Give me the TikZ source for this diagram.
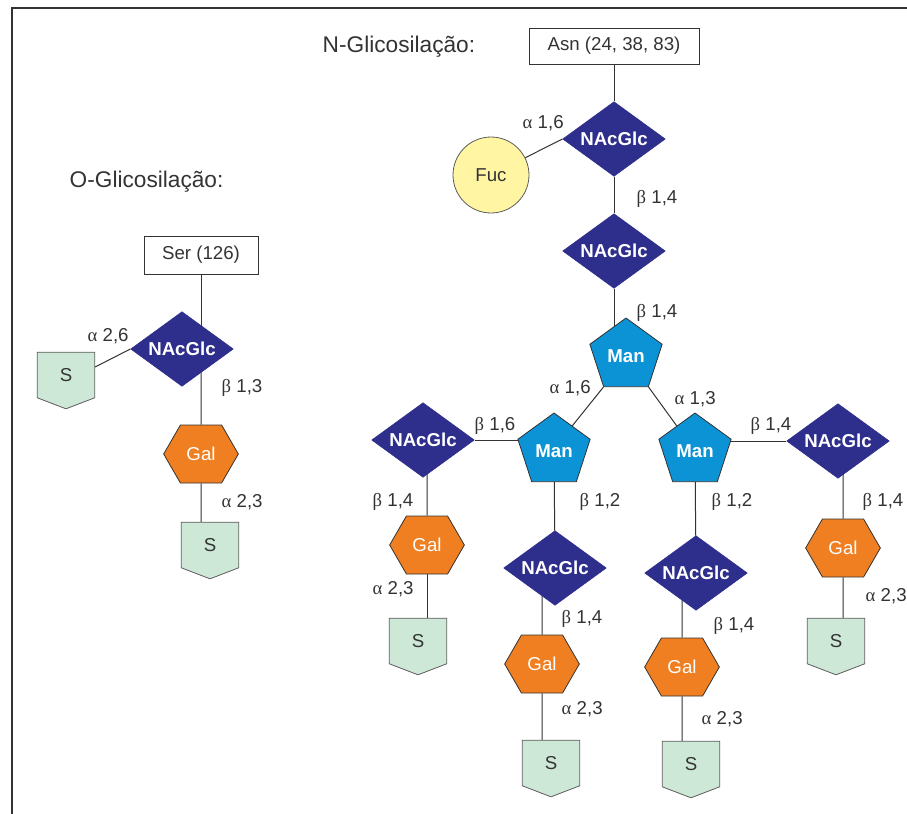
\documentclass[tikz,border=0pt]{standalone}
\usepackage{fontspec}
\setmainfont{Liberation Sans}
\newfontfamily\grk{Liberation Serif}
\usetikzlibrary{positioning,shapes.geometric,shapes.symbols,backgrounds,calc}

\definecolor{nacblue}{HTML}{2E2E8C}
\definecolor{manblue}{HTML}{0B93D6}
\definecolor{galorange}{HTML}{F07F22}
\definecolor{sgreen}{HTML}{CDE8D6}
\definecolor{fucyellow}{HTML}{FFF5A3}
\definecolor{ink}{HTML}{333333}

\newcommand{\lalpha}{{\grk α}}
\newcommand{\lbeta}{{\grk β}}

\begin{document}
\begin{tikzpicture}[x=0.75pt, y=-0.75pt
    , every node/.style={font=\fontsize{14}{16}\selectfont, text=ink}
    , nacglc/.style={diamond, aspect=1.4, fill=nacblue, draw=nacblue,
        minimum width=77pt, minimum height=56pt, inner sep=0pt,
        text=white, font=\fontsize{14}{16}\selectfont\bfseries}
    , man/.style={regular polygon, regular polygon sides=5, minimum size=57pt,
        inner sep=0pt, fill=manblue, draw=ink, line width=0.6pt,
        text=white, font=\fontsize{14}{16}\selectfont\bfseries}
    , gal/.style={signal, signal to=east and west, signal pointer angle=120,
        minimum width=56pt, minimum height=43.5pt, inner sep=0pt,
        fill=galorange, draw=ink, line width=0.6pt, text=white}
    , sugar/.style={signal, signal to=south, signal pointer angle=138,
        minimum width=43pt, minimum height=36pt, inner sep=0pt,
        fill=sgreen, draw=ink!80, line width=0.6pt}
    , fuc/.style={circle, minimum size=57pt, inner sep=0pt, fill=fucyellow,
        draw=ink!80, line width=0.6pt}
    , site/.style={rectangle, draw=ink, line width=0.6pt, inner sep=0pt}
    , heading/.style={anchor=west, font=\fontsize{17}{20}\selectfont}
    , link/.style={anchor=west}
    , bond/.style={draw=ink, line width=0.75pt}
    ]
    \useasboundingbox (0,0) rectangle (907,814);
    \draw[ink, line width=0.9pt] (907,8) -- (12,8) -- (12,814);

    % headings
    \node[heading] (ntitle) at (318,47) {N-Glicosilação:};
    \node[heading] (otitle) at (65,182) {O-Glicosilação:};

    % N-glycan
    \node[site, minimum width=127.5pt, minimum height=27pt] (asn) at (614,46) {Asn (24, 38, 83)};
    \node[nacglc] (nac1) at (614,139) {NAcGlc};
    \node[fuc] (fuc) at (491,175) {Fuc};
    \node[nacglc] (nac2) at (614,251) {NAcGlc};
    \node[man] (man1) at (626,356) {Man};
    \node[man] (man2) at (554,451) {Man};
    \node[man] (man3) at (695,451) {Man};
    \node[nacglc] (nacL) at (423,440) {NAcGlc};
    \node[nacglc] (nacR) at (838,441) {NAcGlc};
    \node[nacglc] (nacM2) at (555,568) {NAcGlc};
    \node[nacglc] (nacM3) at (696,573) {NAcGlc};
    \node[gal] (galL) at (427,545) {Gal};
    \node[gal] (galM2) at (542,664) {Gal};
    \node[gal] (galM3) at (682,667) {Gal};
    \node[gal] (galR) at (843,548) {Gal};
    \node[sugar] (sL) at (418,641) {S};
    \node[sugar] (sM2) at (551,763) {S};
    \node[sugar] (sM3) at (691,764) {S};
    \node[sugar] (sR) at (836,641) {S};

    % O-glycan
    \node[site, minimum width=85.5pt, minimum height=28.5pt] (ser) at (201,255) {Ser (126)};
    \node[nacglc] (nacO) at (182,349) {NAcGlc};
    \node[sugar] (sO1) at (66,375) {S};
    \node[gal] (galO) at (201,454) {Gal};
    \node[sugar] (sO2) at (210,545) {S};

    \begin{scope}[on background layer]
      \draw[bond] (asn) -- (nac1);
      \draw[bond] (nac1) -- (nac2);
      \draw[bond] (fuc) -- (nac1.west);
      \draw[bond] (nac2) -- (nac2 |- man1);
      \draw[bond] (man1.corner 3) -- ($(man2.corner 1)!.5!(man2.corner 5)$);
      \draw[bond] (man1.corner 4) -- ($(man3.corner 1)!.5!(man3.corner 2)$);
      \draw[bond] (nacL) -- (nacL -| man2);
      \draw[bond] (man3 |- nacR) -- (nacR);
      \draw[bond] (man2) -- (nacM2);
      \draw[bond] (man3) -- (nacM3);
      \draw[bond] (galL) -- (galL |- nacL);
      \draw[bond] (galL) -- (galL |- sL);
      \draw[bond] (galM2) -- (galM2 |- nacM2);
      \draw[bond] (galM2) -- (galM2 |- sM2);
      \draw[bond] (galM3) -- (galM3 |- nacM3);
      \draw[bond] (galM3) -- (galM3 |- sM3);
      \draw[bond] (galR) -- (galR |- nacR);
      \draw[bond] (galR) -- (galR |- sR);
      \draw[bond] (ser) -- (ser |- nacO);
      \draw[bond] (galO) -- (galO |- nacO);
      \draw[bond] (galO) -- (galO |- sO2);
      \draw[bond] (nacO.west) -- ([yshift=6pt]sO1.east);
    \end{scope}

    % linkages
    \node[link] (lfuc) at (518,123) {\lalpha\ 1,6};
    \node[link] (lc1) at (632,199) {\lbeta\ 1,4};
    \node[link] (lc2) at (632,313) {\lbeta\ 1,4};
    \node[link] (lm2) at (545,388) {\lalpha\ 1,6};
    \node[link] (lm3) at (670,399) {\lalpha\ 1,3};
    \node[link] (lnl) at (470,426) {\lbeta\ 1,6};
    \node[link] (lnr) at (746,426) {\lbeta\ 1,4};
    \node[link] (lb2) at (575,502) {\lbeta\ 1,2};
    \node[link] (lb3) at (707,502) {\lbeta\ 1,2};
    \node[link] (lgl) at (368,502) {\lbeta\ 1,4};
    \node[link] (lgr) at (858,502) {\lbeta\ 1,4};
    \node[link] (lsl) at (368,589) {\lalpha\ 2,3};
    \node[link] (lsr) at (861,596) {\lalpha\ 2,3};
    \node[link] (lg2) at (557,619) {\lbeta\ 1,4};
    \node[link] (lg3) at (709,626) {\lbeta\ 1,4};
    \node[link] (ls2) at (557,709) {\lalpha\ 2,3};
    \node[link] (ls3) at (697,719) {\lalpha\ 2,3};
    \node[link] (lo1) at (83,336) {\lalpha\ 2,6};
    \node[link] (lo2) at (217,388) {\lbeta\ 1,3};
    \node[link] (lo3) at (217,502) {\lalpha\ 2,3};
  \end{tikzpicture}
\end{document}
